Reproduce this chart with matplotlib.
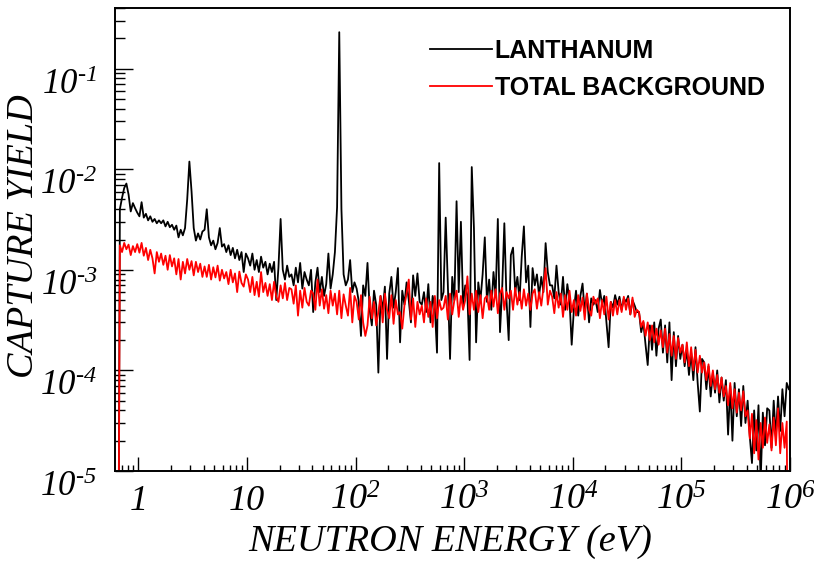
import numpy as np
import matplotlib
matplotlib.use("Agg")
import matplotlib.pyplot as plt
from matplotlib.ticker import FixedLocator, LogLocator, NullFormatter

# histogram binning: 50 bins per decade, first bin starts at 10^-0.2 eV
LOG_E_FIRST_CENTER = -0.19
DEX_PER_BIN = 0.02

# capture yield, in units of 1e-5, one row = 10 bins (0.2 decade)
YIELD_UNIT = 1e-5

LANTHANUM = [
    0.001, 400, 520, 650, 720, 560, 380, 460, 410, 370,
    340, 470, 330, 360, 310, 340, 300, 320, 290, 310,
    290, 310, 270, 300, 265, 280, 250, 275, 210, 250,
    220, 260, 500, 1190, 600, 260, 195, 230, 200, 240,
    250, 400, 210, 175, 195, 160, 185, 260, 170, 180,
    150, 175, 140, 165, 130, 158, 125, 150, 95, 145,
    130, 110, 145, 100, 125, 95, 135, 105, 120, 90,
    115, 95, 120, 50, 105, 320, 100, 80, 110, 85,
    90, 70, 105, 75, 117, 65, 95, 80, 70, 100,
    38, 75, 105, 60, 85, 55, 72, 145, 65, 90,
    150, 420, 23000, 400, 90, 70, 80, 125, 60, 75,
    65, 48, 22, 70, 55, 117, 40, 28, 62, 45,
    9.5, 55, 40, 68, 13, 58, 85, 42, 60, 104,
    19, 62, 45, 75, 50, 30, 88, 55, 92, 48,
    45, 60, 38, 72, 30, 55, 42, 15, 1150, 50,
    60, 330, 70, 13, 85, 50, 480, 60, 300, 45,
    70, 55, 12.7, 1050, 260, 19, 75, 50, 90, 210,
    48, 80, 40, 95, 55, 320, 24, 65, 290, 50,
    20, 140, 166, 60, 85, 50, 135, 270, 75, 110,
    27, 104, 70, 90, 55, 85, 60, 184, 95, 70,
    70, 52, 110, 60, 45, 85, 40, 72, 50, 18,
    40, 62, 35, 55, 73, 38, 58, 30, 52, 45,
    50, 38, 63, 45, 55, 30, 17, 48, 42, 56,
    45, 54, 40, 52, 48, 55, 36, 50, 44, 38,
    38, 24, 30, 18, 11.3, 28, 16, 30, 14, 26,
    32, 15, 28, 12, 30, 8, 24, 11, 22, 13,
    18, 11, 16, 9, 15, 8, 17, 7.5, 3.9, 13,
    12, 6.5, 11, 5.5, 9.5, 6, 10, 4.8, 8.5, 5,
    8, 2.3, 7, 2.0, 7.5, 3.5, 6.5, 2.8, 7, 3,
    5, 2.2, 1.2, 4, 1.6, 4.5, 0.8, 3.8, 1.8, 4.2,
    4, 1.7, 5, 2.2, 5.5, 2.5, 6.5, 3.5, 7.5, 6.5,
]

BACKGROUND = [
    0.001, 175, 150, 185, 160, 178, 140, 172, 150, 180,
    148, 185, 138, 165, 125, 158, 130, 92, 150, 120,
    145, 112, 138, 100, 140, 108, 130, 90, 128, 80,
    120, 92, 128, 100, 122, 88, 120, 95, 115, 85,
    108, 85, 112, 80, 106, 84, 110, 78, 100, 82,
    95, 72, 100, 75, 92, 60, 96, 74, 68, 90,
    80, 60, 85, 56, 76, 54, 95, 60, 74, 55,
    72, 50, 76, 54, 48, 70, 52, 74, 50, 66,
    64, 46, 70, 35, 62, 42, 66, 48, 44, 62,
    58, 40, 80, 44, 64, 41, 56, 37, 62, 44,
    58, 36, 62, 33, 57, 44, 35, 66, 30, 55,
    48, 32, 56, 30, 22, 28, 54, 33, 48, 28,
    38, 55, 30, 58, 40, 33, 56, 29, 50, 36,
    38, 26, 44, 58, 80, 32, 52, 27, 48, 36,
    44, 30, 52, 34, 48, 27, 55, 33, 50, 40,
    42, 55, 32, 58, 36, 50, 62, 34, 55, 40,
    50, 86, 36, 58, 40, 62, 38, 56, 33, 52,
    55, 40, 62, 43, 64, 37, 58, 66, 40, 60,
    52, 62, 40, 66, 45, 60, 41, 64, 44, 58,
    40, 58, 64, 41, 60, 44, 66, 104, 45, 62,
    54, 37, 60, 42, 58, 34, 56, 40, 62, 38,
    50, 35, 56, 39, 53, 32, 58, 40, 35, 54,
    46, 52, 33, 50, 36, 54, 32, 48, 35, 50,
    36, 50, 38, 54, 40, 52, 36, 53, 34, 40,
    38, 27, 31, 22, 30, 20, 28, 19, 26, 18,
    25, 17, 26, 15, 23, 14, 22, 13, 21, 15,
    18, 12, 19, 11, 17, 10, 16, 9.5, 14, 9.5,
    12, 8, 11.5, 7, 10, 6.5, 9, 6, 8.5, 5.5,
    7, 4.5, 7.5, 4.2, 6.5, 3.8, 6, 4, 6.2, 3.5,
    4, 2.1, 3.7, 1.5, 3.2, 1.3, 3, 1.7, 3.4, 1.9,
    2.9, 1.6, 3.4, 1.8, 4.2, 1.5, 3.0, 1.7, 3.1, 0.001,
]

LABELS = ["LANTHANUM", "TOTAL BACKGROUND"]
X_TICKS = [1, 10, 1e2, 1e3, 1e4, 1e5, 1e6]
X_TICK_LABELS = ["1", "10", r"$10^{2}$", r"$10^{3}$", r"$10^{4}$",
                 r"$10^{5}$", r"$10^{6}$"]
Y_TICKS = [1e-5, 1e-4, 1e-3, 1e-2, 1e-1]
Y_TICK_LABELS = [r"$10^{\text{-}5}$", r"$10^{\text{-}4}$", r"$10^{\text{-}3}$",
                 r"$10^{\text{-}2}$", r"$10^{\text{-}1}$"]

plt.rcParams["mathtext.fontset"] = "custom"
plt.rcParams["mathtext.rm"] = "Liberation Serif:italic"
plt.rcParams["mathtext.it"] = "Liberation Serif:italic"
plt.rcParams["font.family"] = "Liberation Serif"
plt.rcParams["font.style"] = "italic"

energy = 10 ** (LOG_E_FIRST_CENTER + DEX_PER_BIN * np.arange(len(LANTHANUM)))
lan = np.array(LANTHANUM) * YIELD_UNIT
bkg = np.array(BACKGROUND) * YIELD_UNIT

fig = plt.figure(figsize=(8.14, 5.65), dpi=100)
ax = fig.add_axes([0.1413, 0.1664, 0.8292, 0.8194])

ax.plot(energy, lan, color="black", lw=1.3, label=LABELS[0])
ax.plot(energy, bkg, color="red", lw=1.3, label=LABELS[1])

ax.set_xscale("log")
ax.set_yscale("log")
ax.set_xlim(0.61, 1e6)
ax.set_ylim(1e-5, 0.4)

ax.xaxis.set_major_locator(FixedLocator(X_TICKS))
ax.xaxis.set_minor_locator(LogLocator(base=10, subs=np.arange(2, 10), numticks=20))
ax.xaxis.set_minor_formatter(NullFormatter())
ax.set_xticklabels(X_TICK_LABELS, va="baseline", fontsize=26,
                   fontstyle="italic")
ax.yaxis.set_major_locator(FixedLocator(Y_TICKS))
ax.yaxis.set_minor_locator(LogLocator(base=10, subs=np.arange(2, 10), numticks=20))
ax.yaxis.set_minor_formatter(NullFormatter())
ax.set_yticklabels(Y_TICK_LABELS, va="top", fontsize=25)

ax.tick_params(axis="x", which="major", direction="in", length=10, width=1.0,
               top=False, pad=28)
ax.tick_params(axis="x", which="minor", direction="in", length=4.5, width=1.0,
               top=False)
ax.tick_params(axis="y", which="major", direction="in", length=13, width=1.0,
               right=False, pad=13)
ax.tick_params(axis="y", which="minor", direction="in", length=7, width=1.0,
               right=False)
for s in ax.spines.values():
    s.set_linewidth(1.4)

ax.set_xlabel("NEUTRON ENERGY (eV)", fontsize=27.5, fontstyle="italic")
ax.xaxis.set_label_coords(0.496, -0.115)
ax.xaxis.label.set_va("top")
ax.set_ylabel("CAPTURE YIELD", fontsize=27.5, fontstyle="italic")
ax.yaxis.set_label_coords(-0.11, 0.508)

ax.legend(loc="upper left", bbox_to_anchor=(0.528, 0.931),
          bbox_transform=fig.transFigure, frameon=False, borderpad=0,
          borderaxespad=0, handlelength=2.48, handletextpad=0.12,
          labelspacing=0.52,
          prop={"family": "Liberation Sans", "weight": "bold",
                "style": "normal", "size": 18})

fig.savefig("out.png", dpi=100)
